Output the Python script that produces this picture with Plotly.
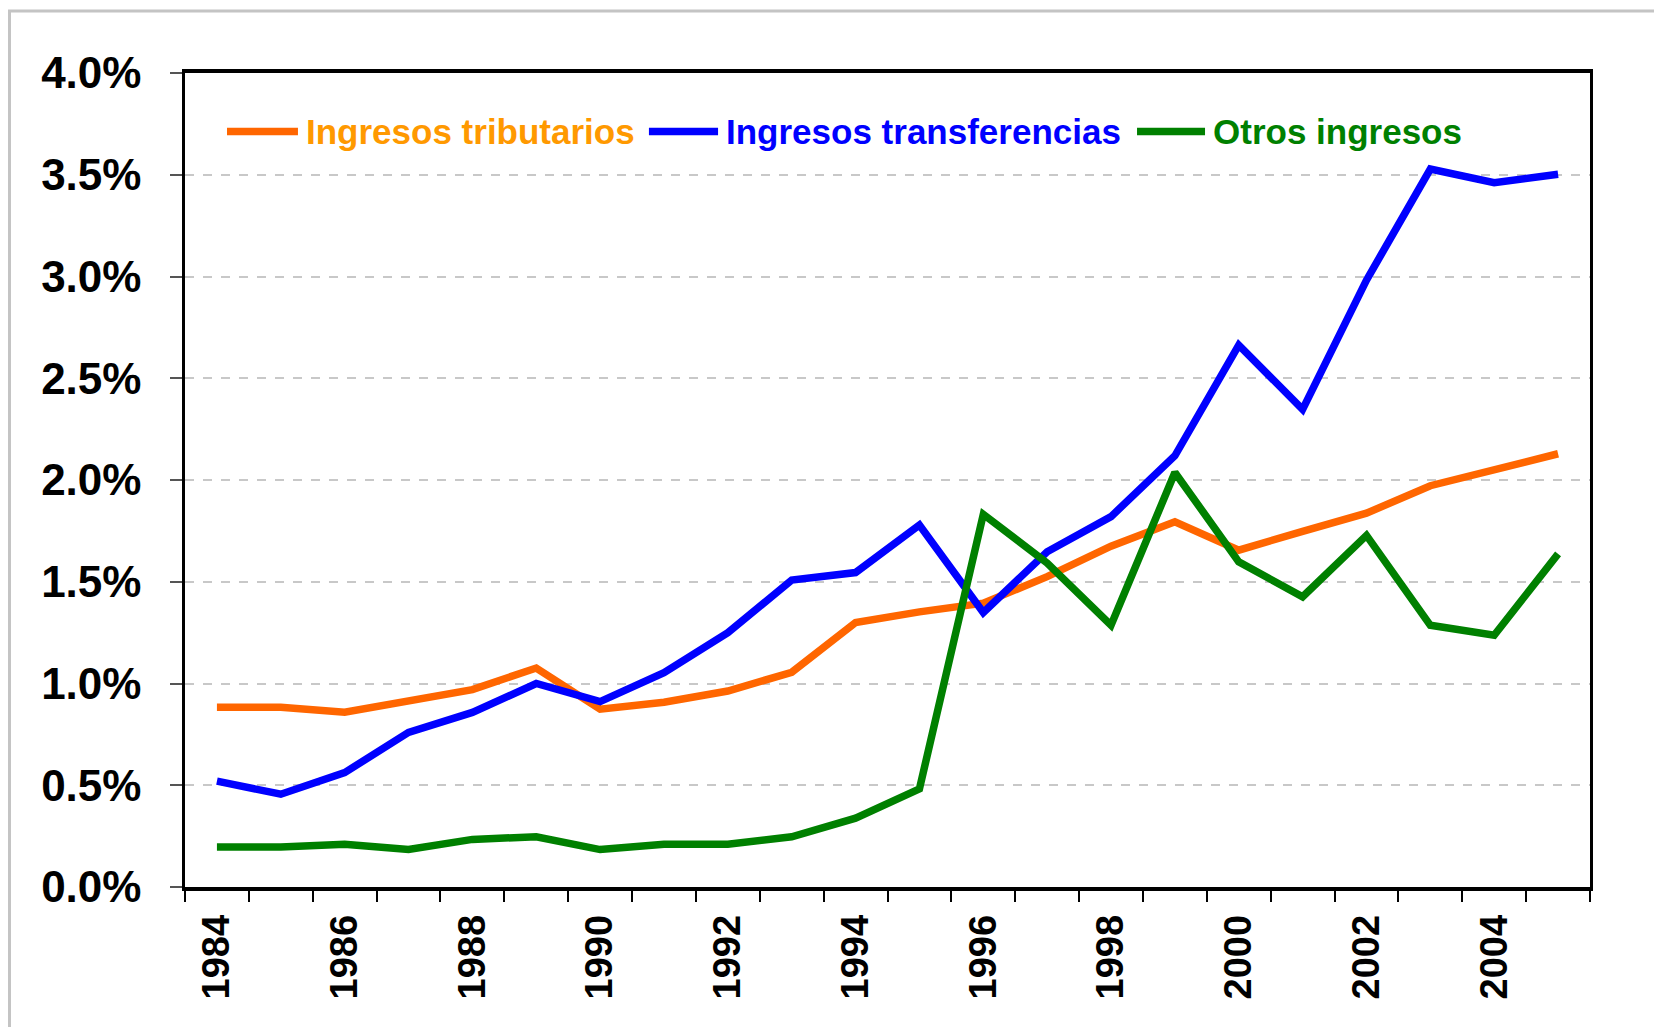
import plotly.graph_objects as go

years = list(range(1984, 2006))
tributarios = [0.883, 0.883, 0.859, 0.910, 0.970, 1.076, 0.874, 0.908, 0.963, 1.055, 1.299, 1.352,
               1.395, 1.525, 1.675, 1.795, 1.655, 1.748, 1.837, 1.972, 2.050, 2.129]
transferencias = [0.520, 0.456, 0.562, 0.760, 0.858, 1.000, 0.911, 1.053, 1.250, 1.508, 1.545, 1.779,
                  1.349, 1.647, 1.820, 2.119, 2.663, 2.347, 2.982, 3.528, 3.461, 3.502]
otros = [0.196, 0.196, 0.210, 0.184, 0.234, 0.247, 0.184, 0.210, 0.210, 0.247, 0.338, 0.482,
         1.831, 1.592, 1.286, 2.037, 1.598, 1.426, 1.728, 1.286, 1.237, 1.637]

series_names = ["Ingresos tributarios", "Ingresos transferencias", "Otros ingresos"]
line_colors = ["#FF6600", "#0000FF", "#008000"]
text_colors = ["#FF9900", "#0000FF", "#008000"]

y_ticks = [0.0, 0.5, 1.0, 1.5, 2.0, 2.5, 3.0, 3.5, 4.0]
x_label_years = list(range(1984, 2006, 2))

FONT = "Liberation Sans, Arial, sans-serif"

fig = go.Figure()
for name, vals, col in zip(series_names, [tributarios, transferencias, otros], line_colors):
    fig.add_trace(go.Scatter(x=years, y=vals, mode="lines", name=name,
                             line=dict(color=col, width=7.5), showlegend=False))

fig.update_layout(
    width=1654, height=1027,
    margin=dict(l=185, r=64, t=73, b=140),
    paper_bgcolor="white", plot_bgcolor="white",
    font=dict(family=FONT, color="black"),
)

fig.update_xaxes(
    range=[1983.5, 2005.5], automargin=False,
    tickmode="array", tickvals=x_label_years, ticktext=[str(y) for y in x_label_years],
    tickangle=-90, ticks="", ticklabelstandoff=9,
    tickfont=dict(family=FONT, size=38, color="black", weight="bold"),
    showgrid=False, zeroline=False,
    showline=True, linecolor="black", linewidth=3.5, mirror=True,
    minor=dict(tickmode="linear", tick0=1983.5, dtick=1, ticks="outside",
               ticklen=11, tickwidth=1.5, tickcolor="black", showgrid=False),
)

fig.update_yaxes(
    range=[0, 4.0], automargin=False,
    tickmode="array", tickvals=y_ticks, ticktext=[f"{v:.1f}%" for v in y_ticks],
    ticks="outside", ticklen=12, tickwidth=2, tickcolor="#555555", ticklabelstandoff=20,
    tickfont=dict(family=FONT, size=44, color="black", weight="bold"),
    showgrid=True, gridcolor="#C8C8C8", gridwidth=1.5, griddash="dash",
    zeroline=False,
    showline=True, linecolor="black", linewidth=2.5, mirror=True,
)

# Outer chart border (light gray frame, runs off the right and bottom edges)
fig.add_shape(type="rect", xref="paper", yref="paper",
              x0=-0.1249, x1=1.2, y0=-0.4, y1=1.0762,
              line=dict(color="#C4C4C4", width=3), fillcolor="rgba(0,0,0,0)", layer="below")

# Legend drawn inside the plot area along the top
legend_line_x = [(0.0299, 0.0804), (0.3302, 0.3794), (0.6776, 0.7260)]
legend_text_x = [0.0847, 0.3836, 0.7302]
legend_y = 0.928
for (lx0, lx1), tx, name, lc, tc in zip(legend_line_x, legend_text_x, series_names, line_colors, text_colors):
    fig.add_shape(type="line", xref="paper", yref="paper", x0=lx0, x1=lx1, y0=legend_y, y1=legend_y,
                  line=dict(color=lc, width=7.5))
    fig.add_annotation(xref="paper", yref="paper", x=tx, y=legend_y, text=f"<b>{name}</b>",
                       showarrow=False, xanchor="left", yanchor="middle",
                       font=dict(family=FONT, size=35, color=tc))

fig.write_html("out.html", config={"displayModeBar": False},
               post_script="document.body.style.margin='0px';")
